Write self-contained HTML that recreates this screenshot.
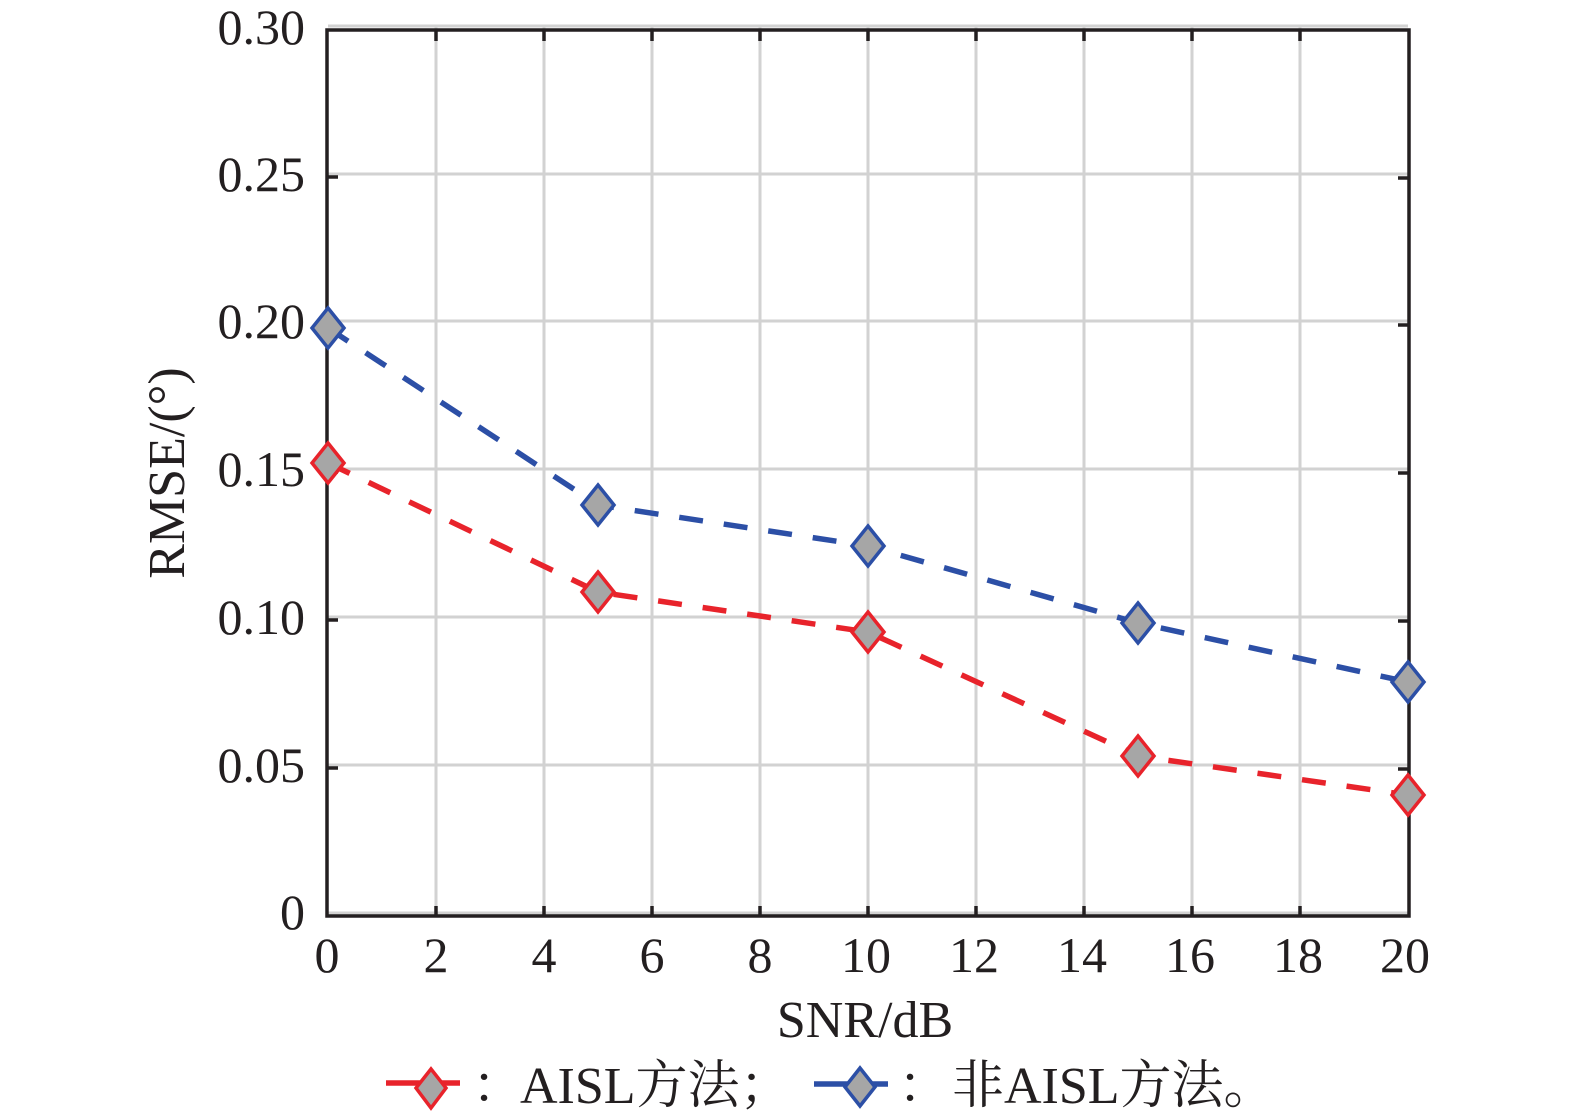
<!DOCTYPE html>
<html>
<head>
<meta charset="utf-8">
<style>
  html, body { margin: 0; padding: 0; background: #ffffff; }
  svg { display: block; }
  .tick { font-family: "Liberation Serif", serif; font-size: 50px; fill: #231f20; }
  .lab { font-family: "Liberation Serif", serif; font-size: 52px; fill: #231f20; }
  .leg { font-family: "Liberation Serif", "Noto Serif CJK SC", serif; font-size: 52px; fill: #231f20; }
</style>
</head>
<body>
<svg width="1575" height="1114" viewBox="0 0 1575 1114" xmlns="http://www.w3.org/2000/svg">
  <rect x="0" y="0" width="1575" height="1114" fill="#ffffff"/>

  <!-- grid -->
  <g stroke="#d2d2d2" stroke-width="3" fill="none">
    <line x1="436" y1="26" x2="436" y2="913"/>
    <line x1="544" y1="26" x2="544" y2="913"/>
    <line x1="652" y1="26" x2="652" y2="913"/>
    <line x1="760" y1="26" x2="760" y2="913"/>
    <line x1="868" y1="26" x2="868" y2="913"/>
    <line x1="976" y1="26" x2="976" y2="913"/>
    <line x1="1084" y1="26" x2="1084" y2="913"/>
    <line x1="1192" y1="26" x2="1192" y2="913"/>
    <line x1="1300" y1="26" x2="1300" y2="913"/>
    <line x1="328" y1="26" x2="1408" y2="26"/>
    <line x1="328" y1="174" x2="1408" y2="174"/>
    <line x1="328" y1="321" x2="1408" y2="321"/>
    <line x1="328" y1="469" x2="1408" y2="469"/>
    <line x1="328" y1="617" x2="1408" y2="617"/>
    <line x1="328" y1="765" x2="1408" y2="765"/>
    <line x1="328" y1="913" x2="1408" y2="913"/>
  </g>

  <!-- axes box -->
  <rect x="327" y="30" width="1082" height="886" fill="none" stroke="#231f20" stroke-width="3.5"/>

  <!-- ticks -->
  <g stroke="#231f20" stroke-width="3.5">
    <line x1="436" y1="916" x2="436" y2="906"/><line x1="436" y1="30" x2="436" y2="41"/>
    <line x1="544" y1="916" x2="544" y2="906"/><line x1="544" y1="30" x2="544" y2="41"/>
    <line x1="652" y1="916" x2="652" y2="906"/><line x1="652" y1="30" x2="652" y2="41"/>
    <line x1="760" y1="916" x2="760" y2="906"/><line x1="760" y1="30" x2="760" y2="41"/>
    <line x1="868" y1="916" x2="868" y2="906"/><line x1="868" y1="30" x2="868" y2="41"/>
    <line x1="976" y1="916" x2="976" y2="906"/><line x1="976" y1="30" x2="976" y2="41"/>
    <line x1="1084" y1="916" x2="1084" y2="906"/><line x1="1084" y1="30" x2="1084" y2="41"/>
    <line x1="1192" y1="916" x2="1192" y2="906"/><line x1="1192" y1="30" x2="1192" y2="41"/>
    <line x1="1300" y1="916" x2="1300" y2="906"/><line x1="1300" y1="30" x2="1300" y2="41"/>

    <line x1="327" y1="177" x2="338" y2="177"/><line x1="1409" y1="178" x2="1398" y2="178"/>
    <line x1="327" y1="324" x2="338" y2="324"/><line x1="1409" y1="325" x2="1398" y2="325"/>
    <line x1="327" y1="472" x2="338" y2="472"/><line x1="1409" y1="473" x2="1398" y2="473"/>
    <line x1="327" y1="620" x2="338" y2="620"/><line x1="1409" y1="621" x2="1398" y2="621"/>
    <line x1="327" y1="768" x2="338" y2="768"/><line x1="1409" y1="769" x2="1398" y2="769"/>
  </g>

  <!-- y tick labels -->
  <g class="tick" text-anchor="end">
    <text x="305" y="44">0.30</text>
    <text x="305" y="191">0.25</text>
    <text x="305" y="338">0.20</text>
    <text x="305" y="486">0.15</text>
    <text x="305" y="634">0.10</text>
    <text x="305" y="782">0.05</text>
    <text x="305" y="929">0</text>
  </g>

  <!-- x tick labels -->
  <g class="tick" text-anchor="middle">
    <text x="327" y="972">0</text>
    <text x="436" y="972">2</text>
    <text x="544" y="972">4</text>
    <text x="652" y="972">6</text>
    <text x="760" y="972">8</text>
    <text x="866" y="972">10</text>
    <text x="974" y="972">12</text>
    <text x="1082" y="972">14</text>
    <text x="1190" y="972">16</text>
    <text x="1298" y="972">18</text>
    <text x="1405" y="972">20</text>
  </g>

  <!-- axis labels -->
  <text class="lab" x="865" y="1037" text-anchor="middle">SNR/dB</text>
  <text class="lab" transform="translate(184,473) rotate(-90)" text-anchor="middle">RMSE/(°)</text>

  <!-- blue series -->
  <polyline points="328,328 598,505 868,546 1138,623 1408,682" fill="none" stroke="#2c4fa6" stroke-width="5.5" stroke-dasharray="24 21"/>
  <!-- red series -->
  <polyline points="328,463 598,592 868,632 1138,756 1408,795" fill="none" stroke="#e8232b" stroke-width="5.5" stroke-dasharray="24 21"/>

  <!-- blue markers -->
  <g fill="#a6a6a6" stroke="#2c4fa6" stroke-width="3.5">
    <polygon points="328,308 344,328 328,348 312,328"/>
    <polygon points="598,485 614,505 598,525 582,505"/>
    <polygon points="868,526 884,546 868,566 852,546"/>
    <polygon points="1138,603 1154,623 1138,643 1122,623"/>
    <polygon points="1408,662 1424,682 1408,702 1392,682"/>
  </g>
  <!-- red markers -->
  <g fill="#a6a6a6" stroke="#e8232b" stroke-width="3.5">
    <polygon points="328,443 344,463 328,483 312,463"/>
    <polygon points="598,572 614,592 598,612 582,592"/>
    <polygon points="868,612 884,632 868,652 852,632"/>
    <polygon points="1138,736 1154,756 1138,776 1122,756"/>
    <polygon points="1408,775 1424,795 1408,815 1392,795"/>
  </g>

  <!-- legend -->
  <line x1="386" y1="1083" x2="460" y2="1083" stroke="#e8232b" stroke-width="5.5"/>
  <polygon points="431,1069 446,1088 431,1108 416,1088" fill="#a6a6a6" stroke="#e8232b" stroke-width="3.5"/>
  <text class="leg" x="498" y="1103" text-anchor="middle">：</text>
  <text class="leg" x="520" y="1103">AISL方法；</text>

  <line x1="814" y1="1084" x2="888" y2="1084" stroke="#2c4fa6" stroke-width="5.5"/>
  <polygon points="860,1068 875,1087 860,1106 845,1087" fill="#a6a6a6" stroke="#2c4fa6" stroke-width="3.5"/>
  <text class="leg" x="924" y="1103" text-anchor="middle">：</text>
  <text class="leg" x="952" y="1103">非AISL方法。</text>
</svg>
</body>
</html>
